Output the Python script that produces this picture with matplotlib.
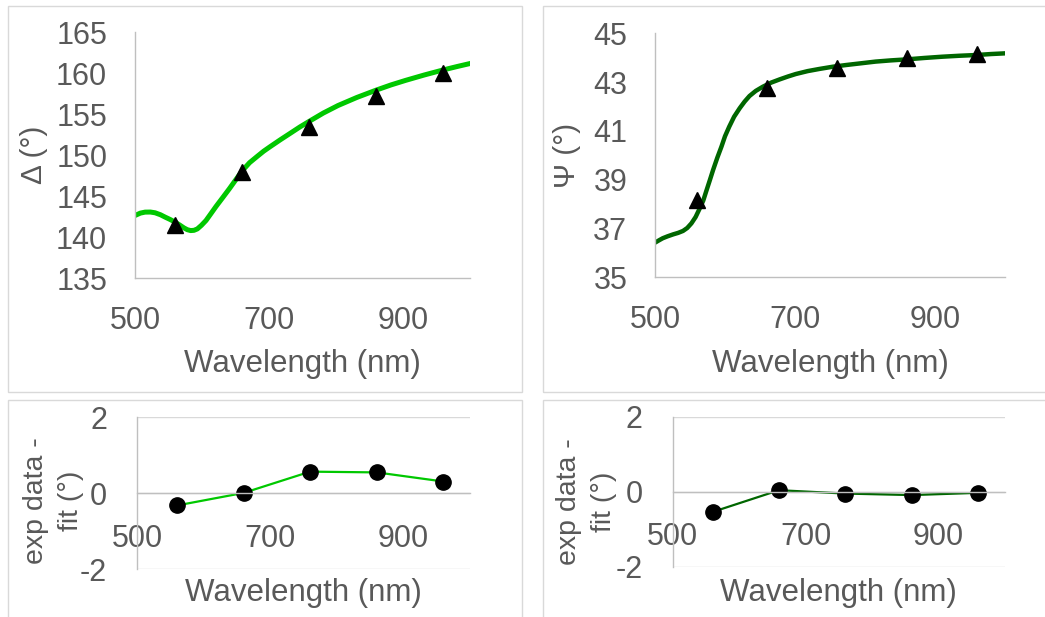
import matplotlib
matplotlib.use("Agg")
import matplotlib.pyplot as plt
from matplotlib.patches import Rectangle

plt.rcParams['font.family'] = ['Liberation Sans', 'DejaVu Sans']
plt.rcParams['axes.unicode_minus'] = False

# measured points (nm)
wl_exp = [560, 660, 760, 860, 960]
delta_exp = [141.5, 148.0, 153.4, 157.2, 160.0]
psi_exp = [38.17, 42.75, 43.59, 43.98, 44.14]
delta_res = [-0.32, 0.01, 0.57, 0.55, 0.31]
psi_res = [-0.54, 0.04, -0.05, -0.09, -0.03]

# model curves
wl_fit_delta = [500, 508, 515, 523, 530, 538, 545, 553, 560, 567, 573, 578,
                583, 588, 593, 599, 606, 613, 621, 631, 641, 651, 661, 671,
                682, 692, 702, 717, 732, 746, 760, 781, 803, 831, 860, 882,
                904, 932, 960, 981, 1002]
delta_fit = [142.66, 142.95, 143.07, 143.08, 142.99, 142.75, 142.46, 142.15,
             141.84, 141.48, 141.15, 140.93, 140.82, 140.85, 141.02, 141.45,
             142.05, 142.85, 143.77, 144.85, 145.94, 147.08, 148.2, 149.1,
             149.84, 150.5, 151.07, 151.9, 152.7, 153.45, 154.14, 155.15,
             156.07, 157.05, 157.95, 158.58, 159.14, 159.8, 160.41, 160.83,
             161.23]
wl_fit_psi = [500, 506, 511, 518, 526, 533, 540, 546, 552, 558, 564, 569,
              573, 578, 583, 589, 595, 600, 606, 613, 621, 628, 635, 644,
              654, 666, 678, 690, 701, 718, 735, 754, 773, 794, 815, 837,
              859, 885, 910, 935, 959, 980, 1001]
psi_fit = [36.42, 36.52, 36.60, 36.68, 36.76, 36.82, 36.90, 37.02, 37.21,
           37.47, 37.83, 38.15, 38.51, 38.95, 39.40, 39.90, 40.36, 40.78,
           41.17, 41.58, 41.93, 42.20, 42.43, 42.64, 42.81, 42.98, 43.11,
           43.23, 43.33, 43.45, 43.54, 43.63, 43.70, 43.77, 43.84, 43.89,
           43.93, 43.99, 44.04, 44.08, 44.11, 44.15, 44.18]

W, H = 1045, 617
txt = '#595959'
axis_c = '#bfbfbf'
light_green = '#00c800'
dark_green = '#006600'

fig = plt.figure(figsize=(W / 100, H / 100), dpi=100)


def px_axes(x0, y0, x1, y1):
    # pixel box (top-left origin) -> figure axes
    return fig.add_axes([x0 / W, (H - y1) / H, (x1 - x0) / W, (y1 - y0) / H])


def px_box(x0, y0, x1, y1):
    fig.add_artist(Rectangle((x0 / W, (H - y1) / H), (x1 - x0) / W, (y1 - y0) / H,
                             transform=fig.transFigure, fill=False,
                             edgecolor='#d9d9d9', linewidth=1.0))


px_box(7.5, 6, 522, 391.7)
px_box(542.7, 6, 1070, 391.7)
px_box(7.5, 400, 522, 640)
px_box(542.7, 400, 1070, 640)


def style(ax, xpad, ypad):
    for s in ['top', 'right']:
        ax.spines[s].set_visible(False)
    for s in ['left', 'bottom']:
        ax.spines[s].set_color(axis_c)
        ax.spines[s].set_linewidth(1.0)
    ax.tick_params(axis='x', length=0, pad=xpad, labelsize=22, labelcolor=txt)
    ax.tick_params(axis='y', length=0, pad=ypad, labelsize=22, labelcolor=txt)
    ax.set_xlim(500, 1000)
    ax.set_xticks([500, 700, 900])


def xlabel(ax, y):
    ax.set_xlabel('Wavelength (nm)', fontsize=22.5, color=txt)
    ax.xaxis.set_label_coords(0.5, y)
    ax.xaxis.label.set_va('center')


def ylabel(ax, text, x, y, size, spacing=1.2):
    ax.set_ylabel(text, fontsize=size, color=txt, multialignment='center',
                  linespacing=spacing)
    ax.yaxis.set_label_coords(x, y)
    ax.yaxis.label.set_va('center')


# Delta
ax1 = px_axes(135, 32.3, 470, 278.3)
style(ax1, 20, 20)
ax1.plot(wl_fit_delta, delta_fit, color=light_green, lw=3.6,
         solid_joinstyle='round', solid_capstyle='round')
ax1.plot(wl_exp, delta_exp, '^', color='black', ms=11, linestyle='none')
ax1.set_ylim(135, 165)
ax1.set_yticks([135, 140, 145, 150, 155, 160, 165])
xlabel(ax1, -0.348)
ylabel(ax1, 'Δ (°)', -0.3, 0.5, 21.5)

# Psi
ax2 = px_axes(655, 33.3, 1005, 277.3)
style(ax2, 20, 20)
ax2.plot(wl_fit_psi, psi_fit, color=dark_green, lw=3.2,
         solid_joinstyle='round', solid_capstyle='round')
ax2.plot(wl_exp, psi_exp, '^', color='black', ms=11, linestyle='none')
ax2.set_ylim(35, 45)
ax2.set_yticks([35, 37, 39, 41, 43, 45])
xlabel(ax2, -0.355)
ylabel(ax2, 'Ψ (°)', -0.252, 0.5, 21.5)

# residuals
for box, res, col, lx, ly, xl in [
        ((137, 417.3, 470, 569.3), delta_res, light_green, -0.25, 0.45, -0.156),
        ((672.7, 416.7, 1005, 566.7), psi_res, dark_green, -0.258, 0.435, -0.175)]:
    ax = px_axes(*box)
    style(ax, 22, 21.5)
    ax.set_ylim(-2, 2)
    ax.set_yticks([-2, 0, 2])
    ax.spines['bottom'].set_position(('data', 0))
    ax.grid(axis='y', color='#d9d9d9', linewidth=1.0)
    ax.set_axisbelow(True)
    ax.plot(wl_exp, res, color=col, lw=1.6)
    ax.plot(wl_exp, res, 'o', color='black', ms=11, linestyle='none')
    xlabel(ax, xl)
    ylabel(ax, 'exp data -\nfit (°)', lx, ly, 20.5, spacing=1.45)

fig.savefig('out.png', dpi=100)
